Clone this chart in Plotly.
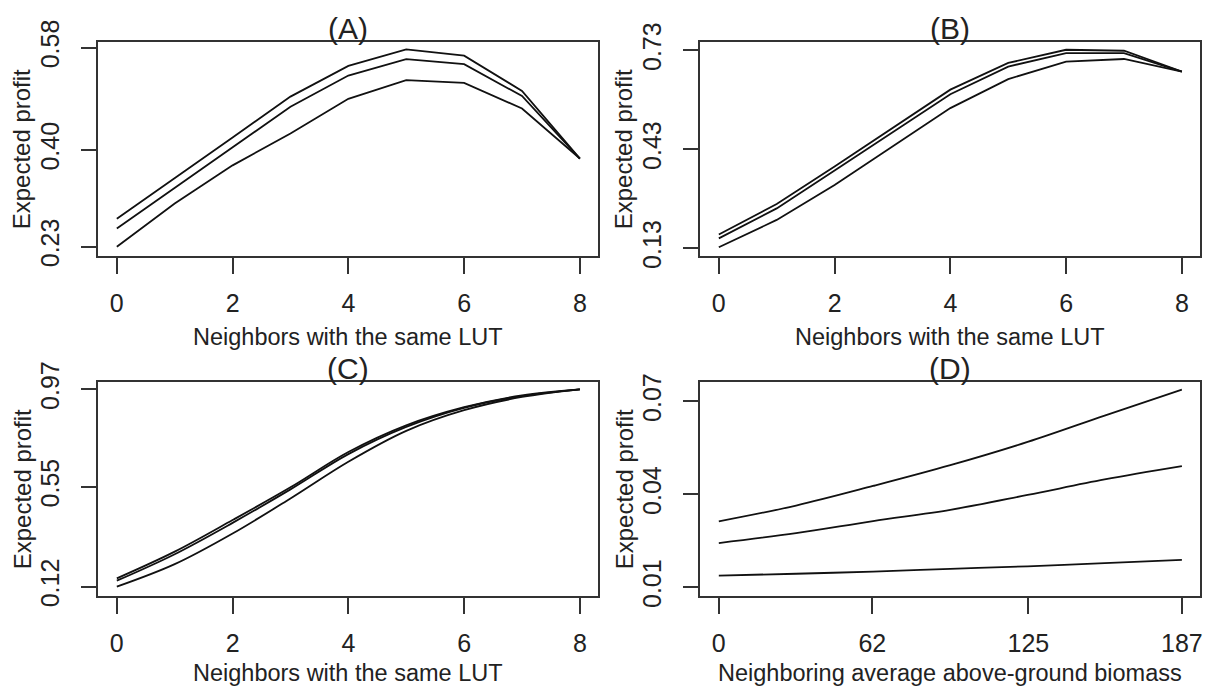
import plotly.graph_objects as go

# ---------------- data ----------------
x_lut = [0, 1, 2, 3, 4, 5, 6, 7, 8]

A_top = [0.279, 0.350, 0.422, 0.494, 0.548, 0.577, 0.566, 0.504, 0.385]
A_mid = [0.262, 0.333, 0.405, 0.476, 0.531, 0.560, 0.551, 0.495, 0.385]
A_bot = [0.230, 0.306, 0.373, 0.429, 0.490, 0.523, 0.518, 0.473, 0.385]

B_top = [0.172, 0.264, 0.378, 0.494, 0.611, 0.692, 0.732, 0.729, 0.666]
B_mid = [0.160, 0.251, 0.366, 0.481, 0.597, 0.681, 0.722, 0.722, 0.666]
B_bot = [0.133, 0.216, 0.322, 0.438, 0.555, 0.643, 0.696, 0.704, 0.666]

C_top = [0.156, 0.271, 0.407, 0.548, 0.700, 0.815, 0.893, 0.944, 0.970]
C_mid = [0.146, 0.260, 0.395, 0.539, 0.691, 0.808, 0.890, 0.941, 0.970]
C_bot = [0.120, 0.217, 0.349, 0.500, 0.658, 0.791, 0.880, 0.937, 0.970]

D_x = [0, 31.2, 62.3, 93.5, 124.7, 155.8, 187]
D_top = [0.0313, 0.0364, 0.0427, 0.0494, 0.0569, 0.0654, 0.0738]
D_mid = [0.0243, 0.0275, 0.0314, 0.0350, 0.0398, 0.0448, 0.0491]
D_bot = [0.0138, 0.0144, 0.0151, 0.0160, 0.0168, 0.0178, 0.0189]

A_yticks = [0.23, 0.40, 0.58]
B_yticks = [0.13, 0.43, 0.73]
C_yticks = [0.12, 0.55, 0.97]
D_yticks = [0.01, 0.04, 0.07]
lut_xticks = [0, 2, 4, 6, 8]
D_xticks = [0, 62, 125, 187]

panel_titles = ["(A)", "(B)", "(C)", "(D)"]
xtitles = ["Neighbors with the same LUT", "Neighbors with the same LUT",
           "Neighbors with the same LUT", "Neighboring average above-ground biomass"]
ytitle = "Expected profit"

# ---------------- layout geometry ----------------
W, H = 1208, 691
FONT = "Liberation Sans, Arial, sans-serif"
TXT = "#222222"
LINE = "#333333"

boxes = [  # left, right, top, bottom in px
    (98.3, 598.4, 42, 256),
    (700.3, 1200.4, 42, 256),
    (98.3, 598.4, 382, 596),
    (700.3, 1200.4, 382, 596),
]
yranges = [[0.2136, 0.590], [0.1066, 0.7555], [0.080, 1.0014], [0.00722, 0.07624]]
xranges = [[-0.32, 8.32], [-0.32, 8.32], [-0.32, 8.32], [-7.48, 194.48]]
yticks = [A_yticks, B_yticks, C_yticks, D_yticks]
xticks = [lut_xticks, lut_xticks, lut_xticks, D_xticks]
xtitle_offset = [81, 81, 77, 77]

series = [
    (x_lut, [A_top, A_mid, A_bot], "linear"),
    (x_lut, [B_top, B_mid, B_bot], "linear"),
    (x_lut, [C_top, C_mid, C_bot], "spline"),
    (D_x, [D_top, D_mid, D_bot], "spline"),
]

fig = go.Figure()
annotations = []
layout = {}
for i in range(4):
    sfx = "" if i == 0 else str(i + 1)
    xs, ys_list, shape = series[i]
    for ys in ys_list:
        fig.add_trace(go.Scatter(x=xs, y=ys, mode="lines",
                                 line=dict(color="#111111", width=1.8, shape=shape),
                                 xaxis="x" + sfx, yaxis="y" + sfx,
                                 showlegend=False, hoverinfo="skip"))
    l, r, t, b = boxes[i]
    common = dict(showline=True, mirror=True, linecolor=LINE, linewidth=1.5,
                  ticks="outside", ticklen=16, tickwidth=1.5, tickcolor=LINE,
                  showgrid=False, zeroline=False, automargin=False,
                  tickfont=dict(family=FONT, size=25, color=TXT))
    layout["xaxis" + sfx] = dict(domain=[l / W, r / W], anchor="y" + sfx,
                                 range=xranges[i], tickvals=xticks[i],
                                 ticktext=[str(v) for v in xticks[i]],
                                 ticklabelstandoff=8, **common)
    layout["yaxis" + sfx] = dict(domain=[1 - b / H, 1 - t / H], anchor="x" + sfx,
                                 range=yranges[i], tickvals=yticks[i],
                                 ticktext=["%.2f" % v for v in yticks[i]],
                                 tickangle=-90, ticklabelstandoff=12, **common)
    cx = (l + r) / 2 / W
    # panel title
    annotations.append(dict(text=panel_titles[i], x=cx, y=1 - (t - 13.5) / H,
                            xref="paper", yref="paper", showarrow=False,
                            xanchor="center", yanchor="middle",
                            font=dict(family=FONT, size=30, color=TXT)))
    # x title
    annotations.append(dict(text=xtitles[i], x=cx, y=1 - (b + xtitle_offset[i]) / H,
                            xref="paper", yref="paper", showarrow=False,
                            xanchor="center", yanchor="middle",
                            font=dict(family=FONT, size=23.5, color=TXT)))
    # y title
    annotations.append(dict(text=ytitle, x=(l - 76) / W, y=1 - (t + b) / 2 / H,
                            xref="paper", yref="paper", showarrow=False,
                            textangle=-90, xanchor="center", yanchor="middle",
                            font=dict(family=FONT, size=24, color=TXT)))

fig.update_layout(width=W, height=H, margin=dict(l=0, r=0, t=0, b=0),
                  paper_bgcolor="white", plot_bgcolor="white",
                  annotations=annotations, **layout)
fig.write_html("out.html")
